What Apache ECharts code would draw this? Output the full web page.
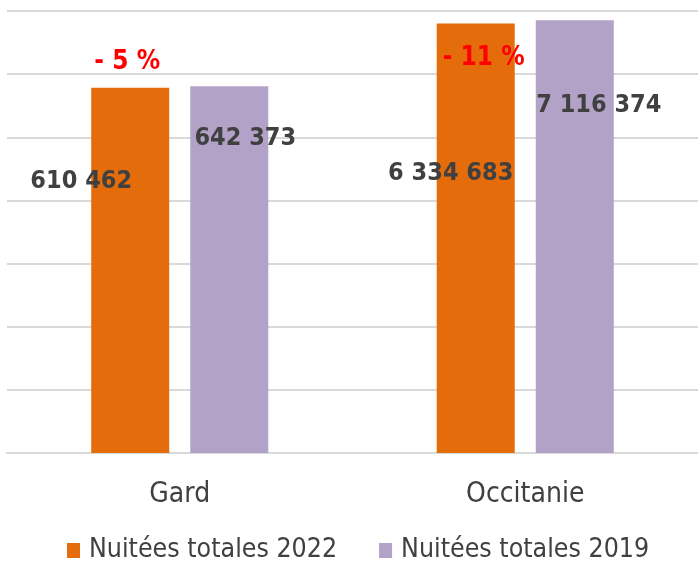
<!DOCTYPE html>
<html>
<head>
<meta charset="utf-8">
<script src="https://cdn.jsdelivr.net/npm/echarts@6/dist/echarts.min.js"></script>
<style>
  html, body { margin: 0; padding: 0; background: #fff; }
  #chart { width: 698px; height: 563px; }
</style>
</head>
<body>
<div id="chart"></div>
<script>
// categories and values
var categories = ['Gard', 'Occitanie'];
var nuitees2022 = [610462, 6334683];
var nuitees2019 = [642373, 7116374];
var seriesNames = ['Nuitées totales 2022', 'Nuitées totales 2019'];

var condensed = '"Liberation Sans Narrow", "DejaVu Sans Condensed", "Roboto", sans-serif';

// french number format : 610 462
function fmt(v) {
  return String(v).replace(/\B(?=(\d{3})+(?!\d))/g, ' ');
}
// evolution 2019 -> 2022
function evo(i) {
  var p = Math.round((nuitees2022[i] - nuitees2019[i]) / nuitees2019[i] * 100);
  return (p < 0 ? '- ' : '+ ') + Math.abs(p) + ' %';
}

// label shifts, as placed by hand in the original
var off2022 = [[-49, 111], [-25, 167]];
var off2019 = [[16, 70], [24, 103]];
var offEvo = [[-3, -25], [8, 35]];

var valueLabel = {
  show: true,
  position: 'top',
  distance: 5,
  fontFamily: condensed,
  fontWeight: 'bold',
  fontSize: 25,
  color: '#404040',
  formatter: function (p) { return fmt(p.value); }
};

var chart = echarts.init(document.getElementById('chart'));
chart.setOption({
  animation: false,
  grid: { left: 7, right: 0, top: 11, bottom: 110 },
  legend: {
    bottom: -6,
    left: 62,
    itemWidth: 13,
    itemHeight: 15,
    itemGap: 42,
    icon: 'rect',
    textStyle: { fontFamily: condensed, fontSize: 26.5, color: '#404040', padding: [0, 0, 0, 4] },
    data: seriesNames
  },
  xAxis: {
    type: 'category',
    data: categories,
    axisLine: { lineStyle: { color: '#d9d9d9', width: 2 } },
    axisTick: { show: false },
    axisLabel: { fontFamily: condensed, fontSize: 28, color: '#404040', margin: 28 }
  },
  yAxis: {
    type: 'log',
    logBase: 10,
    min: 1,
    max: 10000000,
    axisLine: { show: false },
    axisTick: { show: false },
    axisLabel: { show: false },
    splitLine: { lineStyle: { color: '#d9d9d9', width: 2 } }
  },
  series: [
    {
      name: seriesNames[0],
      type: 'bar',
      barWidth: 78,
      barGap: '27%',
      itemStyle: { color: '#E46C0A' },
      data: nuitees2022.map(function (v, i) {
        return { value: v, label: Object.assign({}, valueLabel, { offset: off2022[i] }) };
      }),
      markPoint: {
        symbol: 'rect',
        symbolSize: 0,
        data: categories.map(function (c, i) {
          return {
            coord: [c, nuitees2022[i]],
            label: {
              show: true,
              position: 'inside',
              offset: offEvo[i],
              formatter: evo(i),
              fontFamily: condensed,
              fontWeight: 'bold',
              fontSize: 26,
              color: '#FF0000'
            }
          };
        })
      }
    },
    {
      name: seriesNames[1],
      type: 'bar',
      barWidth: 78,
      itemStyle: { color: '#B2A2C7' },
      data: nuitees2019.map(function (v, i) {
        return { value: v, label: Object.assign({}, valueLabel, { offset: off2019[i] }) };
      })
    }
  ]
});
</script>
</body>
</html>
